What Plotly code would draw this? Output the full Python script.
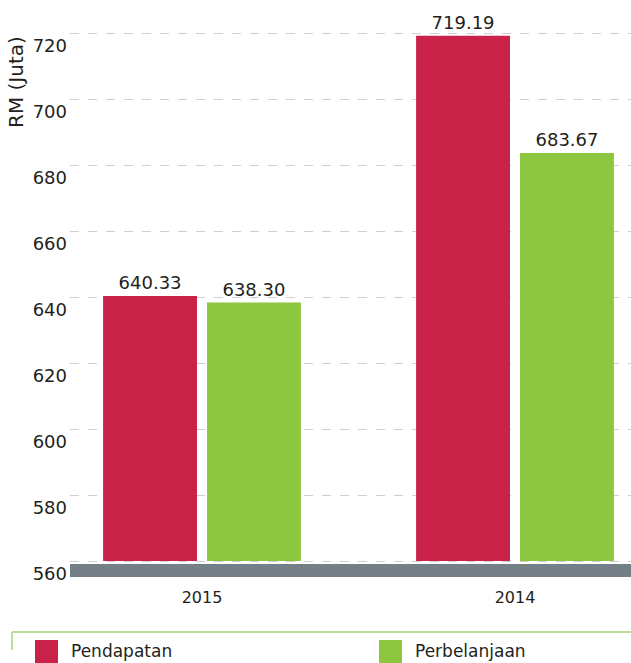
import plotly.graph_objects as go

# Data
years = ["2015", "2014"]
series_names = ["Pendapatan", "Perbelanjaan"]
pendapatan = [640.33, 719.19]
perbelanjaan = [638.30, 683.67]
y_ticks = [560, 580, 600, 620, 640, 660, 680, 700, 720]

BASE = 560
RED = "#C9234A"
GREEN = "#8DC63F"
GRAY = "#757F86"
TXT = "#231F20"
FONT = "DejaVu Sans"
W = 400

x_pos = list(range(len(years)))

fig = go.Figure()
for name, vals, color, off in [
    (series_names[0], pendapatan, RED, -0.316),
    (series_names[1], perbelanjaan, GREEN, 0.016),
]:
    fig.add_trace(go.Bar(
        x=x_pos,
        y=[v - BASE for v in vals],
        base=BASE,
        width=0.3,
        offset=off,
        name=name,
        marker=dict(color=color, line=dict(width=0)),
        text=[f"{v:.2f}" for v in vals],
        textposition="outside",
        textfont=dict(family=FONT, size=18, color=TXT, weight=W),
        cliponaxis=False,
        showlegend=False,
    ))

# Thick baseline under the bars
fig.add_shape(type="rect", xref="paper", yref="y", x0=0, x1=1,
              y0=555.15, y1=559.1, fillcolor=GRAY, line=dict(width=0), layer="above")

# Legend frame line
fig.add_shape(type="line", xref="paper", yref="paper",
              x0=(12 - 70) / 561, x1=1, y0=-(632 - 577) / 577, y1=-(632 - 577) / 577,
              line=dict(color="#A8D274", width=1.5))
fig.add_shape(type="line", xref="paper", yref="paper",
              x0=(12 - 70) / 561, x1=(12 - 70) / 561,
              y0=-(632 - 577) / 577, y1=-(650 - 577) / 577,
              line=dict(color="#A8D274", width=1.5))

# Legend swatches and labels
for name, color, sx in [(series_names[0], RED, 35), (series_names[1], GREEN, 379)]:
    fig.add_shape(type="rect", xref="paper", yref="paper",
                  x0=(sx - 70) / 561, x1=(sx + 23 - 70) / 561,
                  y0=-(640 - 577) / 577, y1=-(663 - 577) / 577,
                  fillcolor=color, line=dict(width=0))
    fig.add_annotation(xref="paper", yref="paper",
                       x=(sx + 34 - 70) / 561, y=-(651 - 577) / 577,
                       text=name, showarrow=False, xanchor="left", yanchor="middle",
                       font=dict(family=FONT, size=17, color=TXT, weight=W))

# Axis title
fig.add_annotation(xref="paper", yref="paper", x=(16 - 70) / 561, y=1 - 82 / 577,
                   text="RM (Juta)", textangle=-90, showarrow=False,
                   xanchor="center", yanchor="middle",
                   font=dict(family=FONT, size=20, color=TXT, weight=W))

fig.update_layout(
    width=631, height=663,
    margin=dict(l=70, r=0, t=0, b=86),
    paper_bgcolor="white", plot_bgcolor="white",
    font=dict(family=FONT, color=TXT),
    xaxis=dict(
        tickvals=x_pos, ticktext=years,
        range=[-0.4217, 1.3706],
        showgrid=False, zeroline=False, showline=False,
        ticks="", ticklabelstandoff=9,
        tickfont=dict(family=FONT, size=16, color=TXT, weight=W),
    ),
    yaxis=dict(
        range=[555.15, 730],
        tickvals=y_ticks,
        showgrid=True, gridcolor="#CFCFCF", griddash="dash", gridwidth=1,
        zeroline=False, showline=False, ticks="",
        ticklabelposition="outside bottom", ticklabelstandoff=2,
        tickfont=dict(family=FONT, size=18, color=TXT, weight=W),
    ),
)

fig.write_html("out.html")
